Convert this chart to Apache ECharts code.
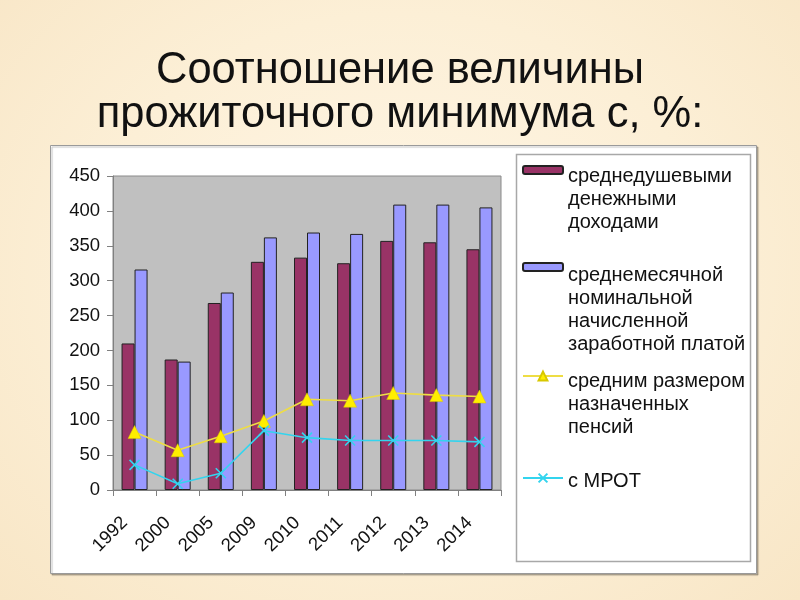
<!DOCTYPE html>
<html>
<head>
<meta charset="utf-8">
<script src="https://cdn.jsdelivr.net/npm/echarts@6/dist/echarts.min.js"></script>
<style>
html,body{margin:0;padding:0;}
body{width:800px;height:600px;background:radial-gradient(ellipse at 50% 45%, #fff6e6 0%, #fcefd6 55%, #f8e6c6 100%);}
#chart{width:800px;height:600px;}
</style>
</head>
<body>
<div id="chart"></div>
<script>
const titleText = 'Соотношение величины\nпрожиточного минимума с, %:';
const categories = ['1992','2000','2005','2009','2010','2011','2012','2013','2014'];
const seriesNames = [
  'среднедушевыми\nденежными\nдоходами',
  'среднемесячной\nноминальной\nначисленной\nзаработной платой',
  'средним размером\nназначенных\nпенсий',
  'с МРОТ'
];
const incomeValues  = [210, 187, 268, 327, 333, 325, 357, 355, 345];
const salaryValues  = [316, 184, 283, 362, 369, 367, 409, 409, 405];
const pensionValues = [83, 57, 77, 99, 130, 128, 139, 136, 134];
const mrotValues    = [36, 9, 24, 85, 75, 71, 71, 71, 69];
const yTicks = {min: 0, max: 450, interval: 50};

const FONT = '"Liberation Sans", Arial, sans-serif';
const LH = 23;
const legendIconY = [170, 267, 376, 478];
const legendTextDrop = [6, 8, 5, 3];
const colors = ['#993366', '#9999ff', '#ffee00', '#33d4ee'];

function legendFor(i, isLine) {
  const n = seriesNames[i].split('\n').length;
  const d = legendTextDrop[i];
  const spacer = (n - 1) * LH + 2 * d;
  const totalH = spacer + n * LH;
  return {
    orient: 'vertical',
    left: 522,
    top: legendIconY[i] - totalH / 2,
    padding: 0,
    itemWidth: 40,
    itemHeight: isLine ? 11 : 8,
    itemGap: 6,
    data: [seriesNames[i]],
    selectedMode: false,
    formatter: function (name) { return '{sp|\u00a0}\n' + name; },
    textStyle: {
      fontFamily: FONT, fontSize: 20, color: '#111',
      lineHeight: LH,
      rich: {sp: {lineHeight: spacer, height: spacer, fontSize: 2}}
    }
  };
}

const chart = echarts.init(document.getElementById('chart'), null, {renderer: 'canvas'});
chart.setOption({
  animation: false,
  backgroundColor: 'transparent',
  title: {
    text: titleText,
    left: 'center',
    top: 44,
    textStyle: {fontFamily: FONT, fontSize: 43.5, fontWeight: 'normal', color: '#111', lineHeight: 44}
  },
  graphic: [
    {type: 'rect', z: -10, shape: {x: 50.5, y: 145.5, width: 706, height: 428},
     style: {fill: '#ffffff', stroke: '#9a9a9a', lineWidth: 1,
             shadowColor: 'rgba(0,0,0,0.25)', shadowOffsetX: 1.5, shadowOffsetY: 1.5, shadowBlur: 1}},
    {type: 'rect', z: -9, shape: {x: 516.5, y: 154.5, width: 234, height: 407},
     style: {fill: '#ffffff', stroke: '#a8a8a8', lineWidth: 1.5}}
  ],
  legend: [legendFor(0, false), legendFor(1, false), legendFor(2, true), legendFor(3, true)],
  grid: {
    left: 113, right: 299, top: 176, bottom: 110,
    show: true, backgroundColor: '#c0c0c0', borderColor: '#8a8a8a', borderWidth: 1
  },
  xAxis: {
    type: 'category',
    data: categories,
    boundaryGap: true,
    axisLine: {lineStyle: {color: '#808080', width: 1}},
    axisTick: {show: true, length: 6, lineStyle: {color: '#808080'}},
    axisLabel: {rotate: 45, fontFamily: FONT, fontSize: 18.5, color: '#111', margin: 20,
                padding: [0, 14, 0, 0], interval: 0}
  },
  yAxis: {
    type: 'value',
    min: yTicks.min, max: yTicks.max, interval: yTicks.interval,
    axisLine: {show: true, lineStyle: {color: '#808080', width: 1}},
    axisTick: {show: true, length: 6, lineStyle: {color: '#808080'}},
    splitLine: {show: false},
    axisLabel: {fontFamily: FONT, fontSize: 18.5, color: '#111', margin: 13}
  },
  series: [
    {name: seriesNames[0], type: 'bar', data: incomeValues, barWidth: 13, barGap: '0%',
     itemStyle: {color: colors[0], borderColor: '#222', borderWidth: 1}},
    {name: seriesNames[1], type: 'bar', data: salaryValues, barWidth: 13, barGap: '0%',
     itemStyle: {color: colors[1], borderColor: '#222', borderWidth: 1}},
    {name: seriesNames[2], type: 'line', data: pensionValues,
     symbol: 'triangle', symbolSize: 13, showAllSymbol: true,
     lineStyle: {color: '#eedd44', width: 1.6},
     itemStyle: {color: colors[2], borderColor: '#d8c800', borderWidth: 0.5}},
    {name: seriesNames[3], type: 'line', data: mrotValues,
     symbol: 'path://M0,0L10,10M10,0L0,10', symbolSize: 10, showAllSymbol: true,
     lineStyle: {color: colors[3], width: 1.6},
     itemStyle: {color: colors[3], borderColor: colors[3], borderWidth: 1.6}}
  ]
});
</script>
</body>
</html>
